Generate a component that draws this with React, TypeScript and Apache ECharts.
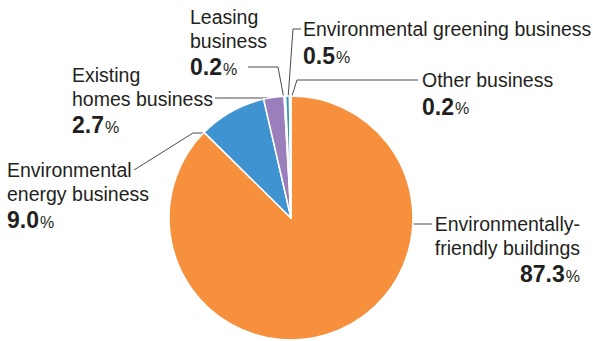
import React, { useEffect, useRef } from "react";
import * as echarts from "echarts";

const categories = [
  "Environmentally-friendly buildings",
  "Environmental energy business",
  "Existing homes business",
  "Leasing business",
  "Environmental greening business",
  "Other business",
];
const labelLines = [
  ["Environmentally-", "friendly buildings"],
  ["Environmental", "energy business"],
  ["Existing", "homes business"],
  ["Leasing", "business"],
  ["Environmental greening business"],
  ["Other business"],
];
const shares = [87.3, 9.0, 2.7, 0.2, 0.5, 0.2];
const colors = ["#F6903D", "#3F93D1", "#9B7EBC", "#8CC8DA", "#2E9AAE", "#BFE3EE"];

// label placement (annotation layout only)
const labelPlacement = [
  { x: 580, y: 212.5, align: "right", line: [[362, 224], [397, 224], [432, 224]] },
  { x: 7, y: 158.5, align: "left", line: [[222, 133], [193, 133], [134, 170]] },
  { x: 72, y: 63.5, align: "left", line: [[272, 112], [268, 98], [215, 98]] },
  { x: 190, y: 5.5, align: "left", line: [[284, 99], [278, 67], [248, 67]] },
  { x: 303, y: 17.5, align: "left", line: [[288, 99], [293, 29], [301, 29]] },
  { x: 422, y: 68.5, align: "left", line: [[291, 99], [297, 80], [418, 80]] },
];

const FONT = '"Liberation Sans", Arial, sans-serif';
const TEXT = "#231f20";

export default function App() {
  const ref = useRef<HTMLDivElement>(null);
  useEffect(() => {
    if (!ref.current) return;
    const chart = echarts.init(ref.current, undefined, { renderer: "svg" });
    chart.setOption({
      animation: false,
      backgroundColor: "#ffffff",
      series: [
        {
          type: "pie",
          center: [291, 218],
          radius: 122,
          startAngle: 90,
          clockwise: true,
          avoidLabelOverlap: false,
          itemStyle: { borderColor: "#ffffff", borderWidth: 1.5 },
          data: categories.map((name, i) => ({
            name,
            value: shares[i],
            itemStyle: { color: colors[i] },
          })),
          label: {
            show: true,
            position: "outside",
            fontFamily: FONT,
            color: TEXT,
            formatter: (p: any) => {
              const i = p.dataIndex;
              const names = labelLines[i].map((l) => `{n|${l}}`).join("\n");
              return `${names}\n{v|${shares[i].toFixed(1)}}{p|%}`;
            },
            rich: {
              n: { fontFamily: FONT, fontSize: 19.5, lineHeight: 23.5, color: TEXT },
              v: {
                fontFamily: FONT,
                fontSize: 23,
                fontWeight: "bold",
                lineHeight: 26,
                color: TEXT,
                verticalAlign: "bottom",
              },
              p: {
                fontFamily: FONT,
                fontSize: 16,
                lineHeight: 26,
                color: TEXT,
                verticalAlign: "bottom",
                padding: [0, 0, 1.5, 1],
              },
            },
          },
          labelLine: {
            show: true,
            lineStyle: { color: "#4a4a4a", width: 1 },
          },
          labelLayout: (params: any) => {
            const pl = labelPlacement[params.dataIndex];
            return {
              x: pl.x,
              y: pl.y,
              align: pl.align,
              verticalAlign: "top",
              labelLinePoints: pl.line,
            };
          },
        },
      ],
    });
    return () => chart.dispose();
  }, []);
  return (
    <div
      ref={ref}
      style={{ position: "fixed", left: 0, top: 0, width: 593, height: 341 }}
    />
  );
}
